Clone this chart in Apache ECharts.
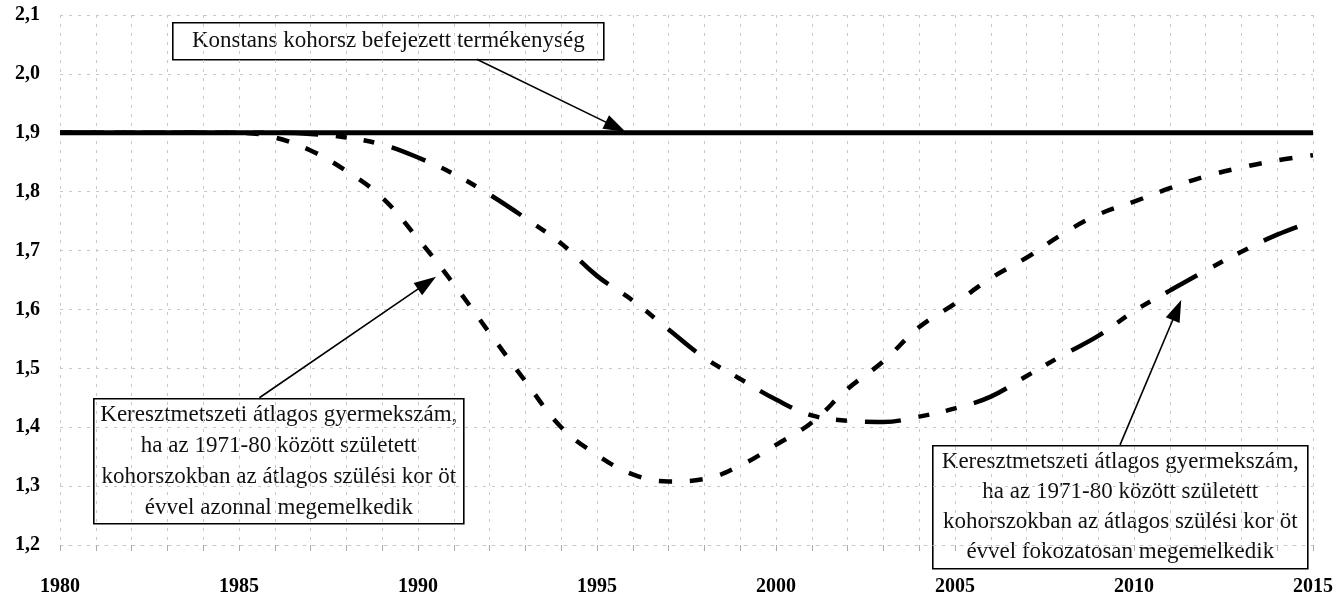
<!DOCTYPE html>
<html>
<head>
<meta charset="utf-8">
<script src="https://cdn.jsdelivr.net/npm/echarts@6/dist/echarts.min.js"></script>
<style>html,body{margin:0;padding:0;background:#fff}#c{width:1336px;height:600px}</style>
</head>
<body>
<div id="c"></div>
<script>
var years = [];
for (var y = 1980; y <= 2015; y++) years.push(y);
var constant = [1.9,1.9,1.9,1.9,1.9,1.9,1.9,1.9,1.9,1.9,1.9,1.9,1.9,1.9,1.9,1.9,1.9,1.9,1.9,1.9,1.9,1.9,1.9,1.9,1.9,1.9,1.9,1.9,1.9,1.9,1.9,1.9,1.9,1.9,1.9,1.9];
var immediate = [1.9,1.9,1.9,1.9,1.9,1.9,1.892,1.87,1.835,1.79,1.72,1.643,1.56,1.478,1.4,1.353,1.32,1.308,1.312,1.335,1.37,1.408,1.465,1.512,1.57,1.61,1.653,1.688,1.728,1.761,1.783,1.806,1.826,1.841,1.853,1.862];
var gradual = [1.9,1.9,1.9,1.9,1.9,1.9,1.9,1.898,1.892,1.88,1.858,1.83,1.795,1.755,1.712,1.657,1.615,1.566,1.518,1.482,1.447,1.42,1.411,1.409,1.418,1.432,1.452,1.487,1.522,1.555,1.597,1.632,1.666,1.698,1.727,1.75];
var yTicks = ['1,2','1,3','1,4','1,5','1,6','1,7','1,8','1,9','2,0','2,1'];
var boxTop = 'Konstans kohorsz befejezett termékenység';
var boxLeft = 'Keresztmetszeti átlagos gyermekszám,\nha az 1971-80 között született\nkohorszokban az átlagos szülési kor öt\névvel azonnal megemelkedik';
var boxRight = 'Keresztmetszeti átlagos gyermekszám,\nha az 1971-80 között született\nkohorszokban az átlagos szülési kor öt\névvel fokozatosan megemelkedik';
// arrows: [fromYear, fromValue, toYear, toValue]
var arrows = [
  [1991.64, 2.025, 1995.52, 1.910],
  [1985.57, 1.450, 1990.25, 1.645],
  [2009.61, 1.370, 2011.20, 1.599]
];

function pairs(vals){ return years.map(function(yr,i){ return [yr, vals[i]]; }); }

var chart = echarts.init(document.getElementById('c'));
var serif = '"Liberation Serif", "DejaVu Serif", serif';
var gridStyle = {color:'#c8c8c8', width:1, type:[3,6]};

function box(x, y, w, h, text, lh) {
  return {
    type:'group', left:x, top:y, z:100,
    children:[
      {type:'rect', shape:{x:0,y:0,width:w,height:h}, style:{fill:'#fff', stroke:'#000', lineWidth:1.6}},
      {type:'text', x:w/2, y:h/2, style:{text:text, font:'23px ' + serif, fill:'#111', align:'center', verticalAlign:'middle', lineHeight:lh}}
    ]
  };
}

chart.setOption({
  animation:false,
  backgroundColor:'#fff',
  grid:{left:60, right:19, top:15, bottom:55},
  xAxis:{
    type:'value', min:1980, max:2015, interval:1,
    axisLine:{show:true, lineStyle:gridStyle},
    axisTick:{show:true, length:6, lineStyle:{color:'#aaa'}},
    splitLine:{show:true, lineStyle:gridStyle},
    axisLabel:{
      margin:32, color:'#000', fontFamily:serif, fontWeight:'bold', fontSize:20,
      formatter:function(v){ return v % 5 === 0 ? String(v) : ''; }
    }
  },
  yAxis:{
    type:'value', min:1.2, max:2.1, interval:0.1,
    axisLine:{show:false},
    axisTick:{show:false},
    splitLine:{show:true, lineStyle:gridStyle},
    axisLabel:{
      margin:20, color:'#000', fontFamily:serif, fontWeight:'bold', fontSize:20,
      formatter:function(v){ var i = Math.round((v - 1.2) * 10); return yTicks[i] || ''; }
    }
  },
  series:[
    {
      name:'const', type:'line', data:pairs(constant), showSymbol:false, z:3,
      lineStyle:{color:'#000', width:5},
      markLine:{
        silent:true, symbol:['none','triangle'], symbolSize:[15,22],
        label:{show:false},
        lineStyle:{color:'#000', width:1.6, type:'solid'},
        data: arrows.map(function(a){ return [{coord:[a[0],a[1]]},{coord:[a[2],a[3]]}]; })
      }
    },
    {
      name:'immediate', type:'line', data:pairs(immediate), showSymbol:false, smooth:0.4, z:2,
      lineStyle:{color:'#000', width:4.5, type:[13,18]}
    },
    {
      name:'gradual', type:'line', data:pairs(gradual), showSymbol:false, smooth:0.4, z:2,
      lineStyle:{color:'#000', width:4.5, type:[36,18,11,17,11,18]}
    }
  ],
  graphic:[
    box(172, 22, 431, 37, boxTop, 26),
    box(93, 398, 370, 125, boxLeft, 31),
    box(932, 445, 375, 123, boxRight, 30)
  ]
});
</script>
</body>
</html>
